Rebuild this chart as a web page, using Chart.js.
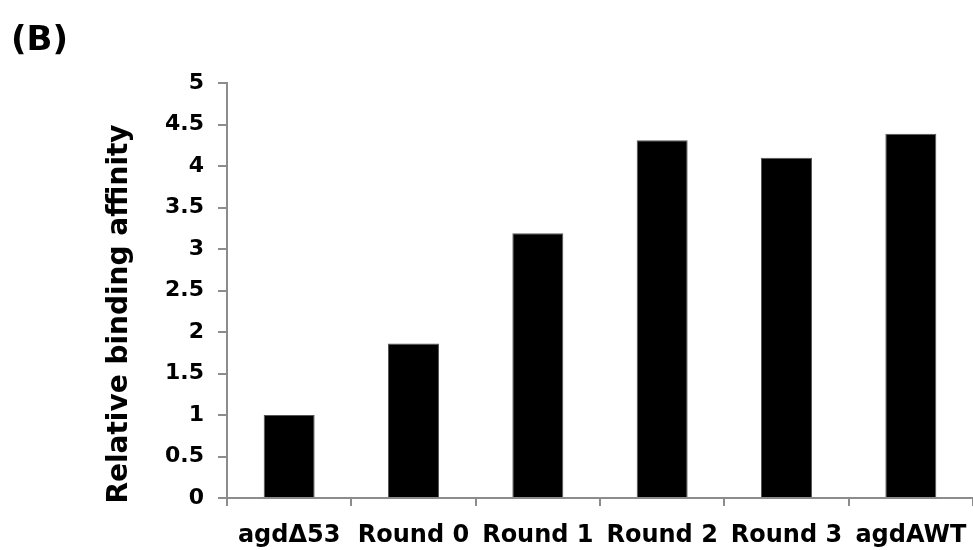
<!DOCTYPE html>
<html lang="en">
<head>
    <meta charset="UTF-8">
    <title>Relative binding affinity</title>
    <script src="https://cdn.jsdelivr.net/npm/chart.js"></script>
    <style>
        html, body { margin: 0; padding: 0; background: #fff; }
        .chart-box { position: relative; width: 973px; height: 550px; }
    </style>
</head>
<body>
    <div class="chart-box">
        <canvas id="affinityChart" width="973" height="550"></canvas>
    </div>

    <script>
        const categories = ['agd\u039453', 'Round 0', 'Round 1', 'Round 2', 'Round 3', 'agdAWT'];
        const affinity = [1.0, 1.86, 3.19, 4.31, 4.10, 4.39];
        const yTicks = [0, 0.5, 1, 1.5, 2, 2.5, 3, 3.5, 4, 4.5, 5];

        const axisGrey = '#8c8c8c';
        const fontFamily = '"DejaVu Sans", sans-serif';

        // panel letter and y-axis title, drawn on the canvas after the chart
        const labelsPlugin = {
            id: 'labels',
            afterDraw(chart) {
                const ctx = chart.ctx;
                ctx.save();
                ctx.fillStyle = '#000';
                ctx.font = 'bold 34px ' + fontFamily;
                ctx.textAlign = 'left';
                ctx.textBaseline = 'alphabetic';
                ctx.fillText('(B)', 11, 50);

                ctx.translate(127, 314);
                ctx.rotate(-Math.PI / 2);
                ctx.font = 'bold 28px ' + fontFamily;
                ctx.textAlign = 'center';
                ctx.fillText('Relative binding affinity', 0, 0);
                ctx.restore();
            }
        };

        new Chart(document.getElementById('affinityChart'), {
            type: 'bar',
            data: {
                labels: categories,
                datasets: [{
                    data: affinity,
                    backgroundColor: '#000',
                    borderColor: '#555',
                    borderWidth: 1,
                    categoryPercentage: 1,
                    barPercentage: 0.41
                }]
            },
            options: {
                responsive: false,
                animation: false,
                layout: { padding: { top: 83, left: 0, right: 0, bottom: 0 } },
                plugins: {
                    legend: { display: false },
                    tooltip: { enabled: false }
                },
                scales: {
                    x: {
                        afterFit(scale) {
                            scale.height = 52;
                            // axis runs to the right edge, labels fit anyway
                            scale.paddingLeft = 0;
                            scale.paddingRight = 0;
                        },
                        grid: {
                            offset: true,
                            drawOnChartArea: false,
                            drawTicks: true,
                            tickLength: 8,
                            color: axisGrey,
                            lineWidth: 2
                        },
                        border: { color: axisGrey, width: 2 },
                        ticks: {
                            color: '#000',
                            padding: 15,
                            maxRotation: 0,
                            font: { family: fontFamily, size: 24, weight: 'bold' }
                        }
                    },
                    y: {
                        min: 0,
                        max: 5,
                        afterFit(scale) { scale.width = 227; },
                        afterBuildTicks(scale) {
                            scale.ticks = yTicks.map(v => ({ value: v }));
                        },
                        grid: {
                            drawOnChartArea: false,
                            drawTicks: true,
                            tickLength: 9,
                            color: axisGrey,
                            lineWidth: 2
                        },
                        border: { color: axisGrey, width: 2 },
                        ticks: {
                            color: '#000',
                            padding: 14,
                            font: { family: fontFamily, size: 22, weight: 'bold' },
                            callback: v => String(v)
                        }
                    }
                }
            },
            plugins: [labelsPlugin]
        });
    </script>
</body>
</html>
